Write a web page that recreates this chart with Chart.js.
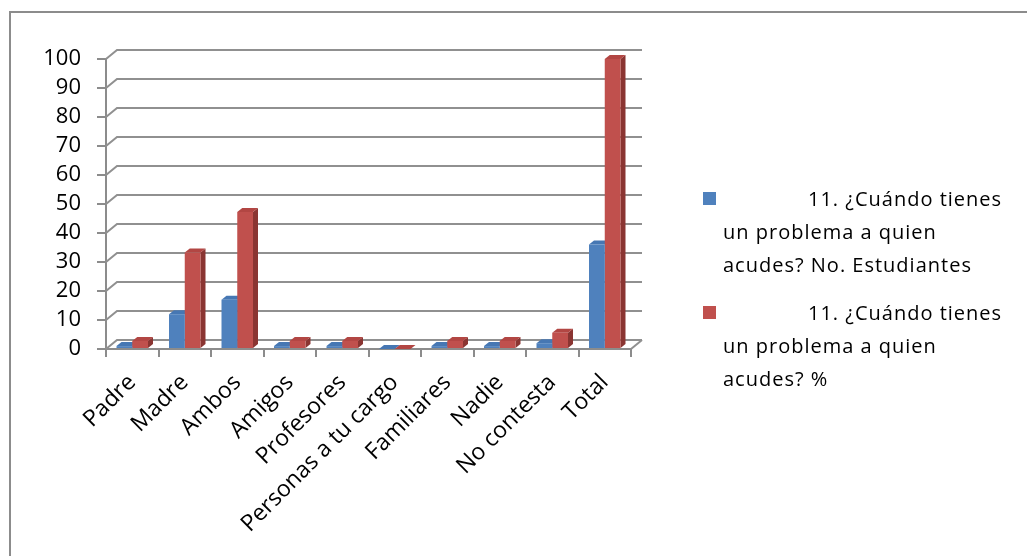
<!DOCTYPE html>
<html>
<head>
<meta charset="utf-8">
<script src="https://cdn.jsdelivr.net/npm/chart.js@4"></script>
<style>
  body { margin: 0; background: #fff; }
  #wrap { position: relative; width: 1027px; height: 556px; overflow: hidden; }
  #marco { position: absolute; left: 9px; top: 11px; width: 1100px; height: 700px;
           border-left: 2px solid #8c8c8c; border-top: 2px solid #8c8c8c; }
  #grafico { position: absolute; left: 0; top: 0; }
  #leyenda { position: absolute; left: 703px; top: 182px; width: 307px;
             font-family: 'Open Sans', sans-serif; font-size: 20px; letter-spacing: 1px;
             line-height: 33px; color: #000; }
  .item { position: relative; padding-left: 20px; margin-bottom: 15px; }
  .item .cuadro { position: absolute; left: 0; top: 10px; width: 13px; height: 13px; }
  .item .texto { text-indent: 85px; }
</style>
</head>
<body>
<div id="wrap">
  <div id="marco"></div>
  <canvas id="grafico" width="1027" height="556"></canvas>
  <div id="leyenda"></div>
</div>
<script>
// DATOS
const categorias = ['Padre', 'Madre', 'Ambos', 'Amigos', 'Profesores', 'Personas a tu cargo',
                    'Familiares', 'Nadie', 'No contesta', 'Total'];
const estudiantes = [1, 12, 17, 1, 1, 0, 1, 1, 2, 36];
const porcentaje = [2.8, 33.3, 47.2, 2.8, 2.8, 0, 2.8, 2.8, 5.6, 100];
const nombresSeries = [
    '11. ¿Cuándo tienes un problema a quien acudes? No. Estudiantes',
    '11. ¿Cuándo tienes un problema a quien acudes? %'
];

// colores: frente, techo, lado
const azul = ['#4F81BD', '#4677B3', '#375E8D'];
const rojo = ['#C0504D', '#B24643', '#8A3532'];

Chart.defaults.font.family = 'Open Sans';
Chart.defaults.color = '#000';

const prof = { dx: 11, dy: 9 };     // pared de fondo
const barra3d = { dx: 5, dy: 4 };   // profundidad de las barras

// pared de fondo + caras laterales/superiores de las barras
const efecto3d = {
    id: 'efecto3d',
    beforeDatasetsDraw(chart) {
        const ctx = chart.ctx;
        const y = chart.scales.y;
        const a = chart.chartArea;
        ctx.save();
        ctx.strokeStyle = '#909090';
        ctx.lineWidth = 2;
        y.ticks.forEach(t => {
            const py = y.getPixelForValue(t.value);
            ctx.beginPath();
            ctx.moveTo(a.left, py);
            ctx.lineTo(a.left + prof.dx, py - prof.dy);
            ctx.lineTo(a.right + prof.dx, py - prof.dy);
            ctx.stroke();
        });
        ctx.beginPath();
        ctx.moveTo(a.right, a.bottom);
        ctx.lineTo(a.right + prof.dx, a.bottom - prof.dy);
        ctx.stroke();

        chart.data.datasets.forEach((ds, i) => {
            const cols = i === 0 ? azul : rojo;
            chart.getDatasetMeta(i).data.forEach(el => {
                const p = el.getProps(['x', 'y', 'base', 'width'], true);
                const l = p.x - p.width / 2, r = p.x + p.width / 2;
                ctx.fillStyle = cols[2];
                ctx.beginPath();
                ctx.moveTo(r, p.y);
                ctx.lineTo(r + barra3d.dx, p.y - barra3d.dy);
                ctx.lineTo(r + barra3d.dx, p.base - barra3d.dy);
                ctx.lineTo(r, p.base);
                ctx.closePath();
                ctx.fill();
                ctx.fillStyle = cols[1];
                ctx.beginPath();
                ctx.moveTo(l, p.y);
                ctx.lineTo(l + barra3d.dx, p.y - barra3d.dy);
                ctx.lineTo(r + barra3d.dx, p.y - barra3d.dy);
                ctx.lineTo(r, p.y);
                ctx.closePath();
                ctx.fill();
            });
        });
        ctx.restore();
    }
};

const chart = new Chart(document.getElementById('grafico'), {
    type: 'bar',
    data: {
        labels: categorias,
        datasets: [
            { label: nombresSeries[0], data: estudiantes, backgroundColor: azul[0] },
            { label: nombresSeries[1], data: porcentaje, backgroundColor: rojo[0] }
        ]
    },
    options: {
        responsive: false,
        animation: false,
        categoryPercentage: 0.6,
        barPercentage: 1,
        layout: { padding: { left: 0, top: 59, right: 396, bottom: 0 } },
        plugins: { legend: { display: false }, tooltip: { enabled: false } },
        scales: {
            y: {
                min: 0, max: 100,
                ticks: { stepSize: 10, autoSkip: false, font: { size: 22 }, padding: 16 },
                grid: { drawOnChartArea: false, tickLength: 9, color: '#8c8c8c', lineWidth: 2 },
                border: { color: '#8c8c8c', width: 2 },
                afterFit: s => { s.width = 106; s.paddingTop = 0; s.paddingBottom = 0; }
            },
            x: {
                ticks: { minRotation: 45, maxRotation: 45, autoSkip: false, font: { size: 23 }, padding: 12 },
                grid: { drawOnChartArea: false, tickLength: 8, color: '#8c8c8c', lineWidth: 2 },
                border: { color: '#8c8c8c', width: 2 },
                afterFit: s => { s.height = 207; s.paddingLeft = 0; s.paddingRight = 0; }
            }
        }
    },
    plugins: [efecto3d]
});

// leyenda a la derecha, con ajuste de línea
const leyenda = document.getElementById('leyenda');
chart.data.datasets.forEach(ds => {
    const item = document.createElement('div');
    item.className = 'item';
    const cuadro = document.createElement('span');
    cuadro.className = 'cuadro';
    cuadro.style.background = ds.backgroundColor;
    const texto = document.createElement('div');
    texto.className = 'texto';
    texto.textContent = ds.label;
    item.appendChild(cuadro);
    item.appendChild(texto);
    leyenda.appendChild(item);
});
</script>
</body>
</html>
